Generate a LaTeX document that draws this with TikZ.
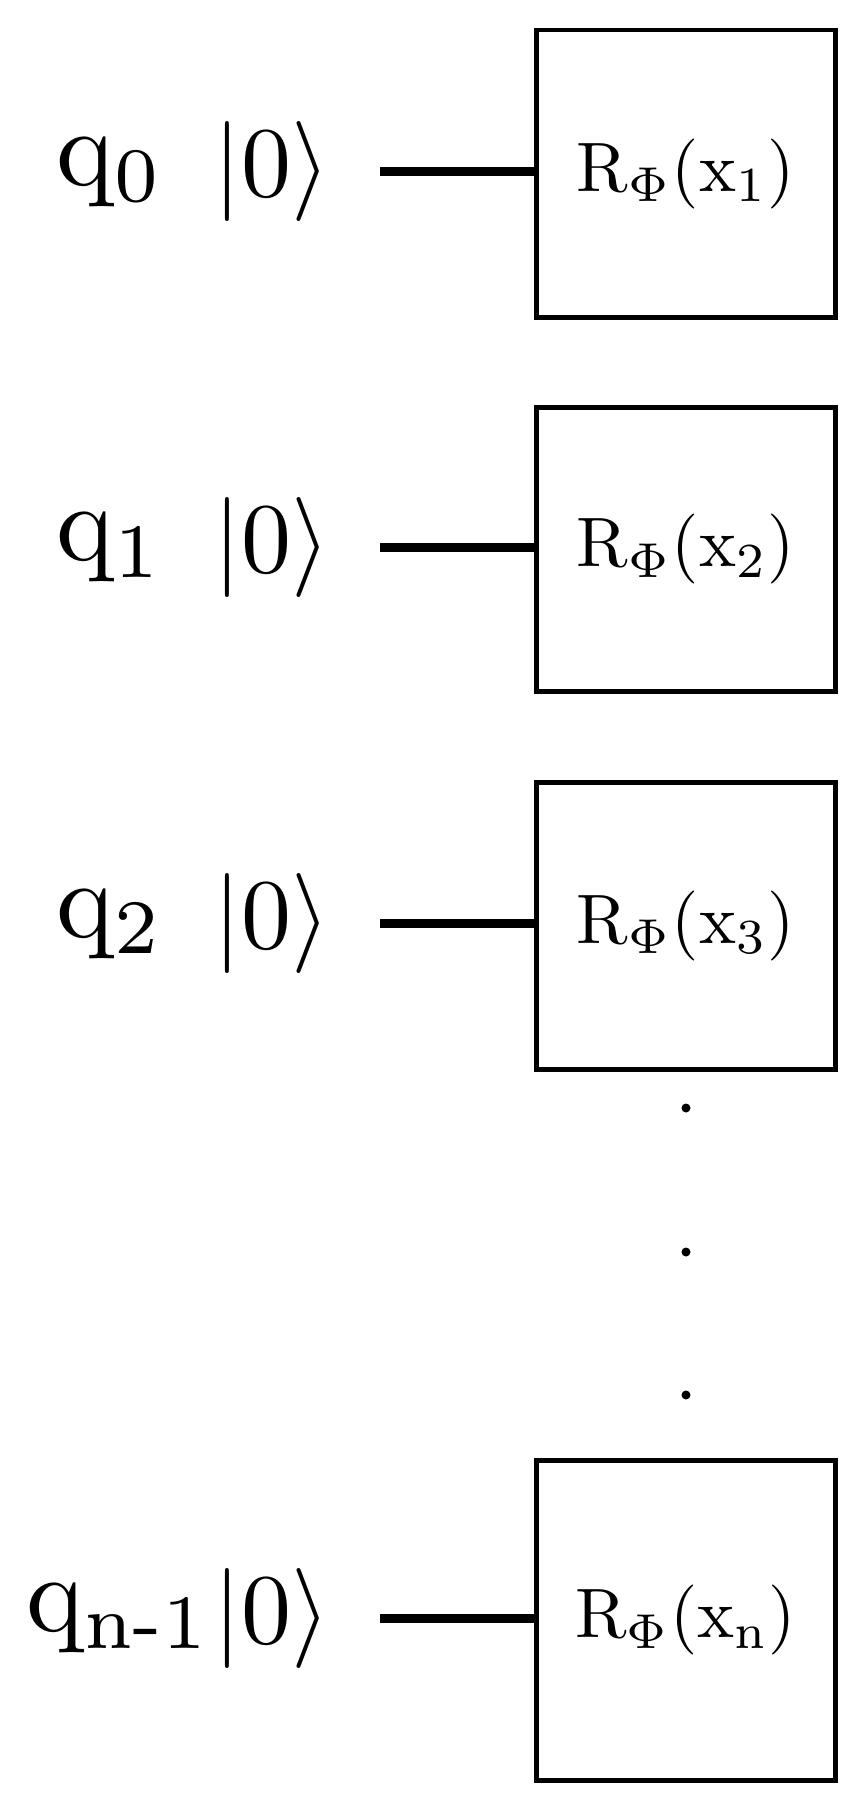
\documentclass[tikz,border=0pt]{standalone}
\usepackage{graphicx}
\begin{document}
\begin{tikzpicture}[x=1pt,y=-1pt,
  gate/.style={draw,line width=4.5pt,minimum width=299pt,minimum height=287pt,anchor=north west,inner sep=0pt},
  wire/.style={line width=9pt},
  lbl/.style={inner sep=0pt},
  dot/.style={circle,fill,inner sep=0pt,minimum size=9pt}]
\useasboundingbox (0,0) rectangle (866,1793);
\foreach \i/\y/\h/\q/\x/\lx in {1/28/287/0/1/56,2/405/284/1/2/56,3/780/287/2/3/56,4/1458/320/{n-1}/n/26}{
  \node[gate,minimum height=\h pt] (g\i) at (534,\y) {\scalebox{7}{R$_\Phi$(x\textsubscript{\x})}};
  \node[lbl] (k\i) at (272,\y+\h/2) {\scalebox{10}{$|0\rangle$}};
  \node[lbl,anchor=west] (q\i) at (\lx,\y+\h/2) {\scalebox{11}{q\textsubscript{\q}}};
  \coordinate (w\i) at (380,\y+\h/2);
  \draw[wire] (w\i) -- (w\i -| g\i.west);
}
\node[dot] (d1) at (686,1108) {};
\node[dot] (d2) at (686,1252) {};
\node[dot] (d3) at (686,1395) {};
\end{tikzpicture}
\end{document}
